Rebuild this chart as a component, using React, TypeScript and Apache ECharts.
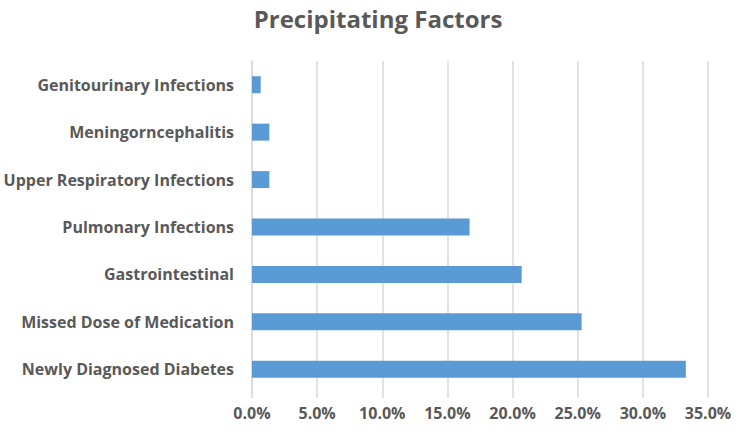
import React, { useEffect, useRef } from "react";
import * as echarts from "echarts";

const categories = [
  "Newly Diagnosed Diabetes",
  "Missed Dose of Medication",
  "Gastrointestinal",
  "Pulmonary Infections",
  "Upper Respiratory Infections",
  "Meningorncephalitis",
  "Genitourinary Infections",
];
const values = [33.3, 25.3, 20.7, 16.7, 1.33, 1.33, 0.67];
const titleText = "Precipitating Factors";

export default function App() {
  const ref = useRef<HTMLDivElement>(null);
  useEffect(() => {
    if (!ref.current) return;
    const chart = echarts.init(ref.current, null, { renderer: "svg" });
    const font = "'Open Sans', 'Liberation Sans', sans-serif";
    chart.setOption({
      animation: false,
      title: {
        text: titleText,
        left: 373,
        textAlign: "center",
        top: 1,
        textStyle: { fontFamily: font, fontSize: 24, fontWeight: "bold", color: "#595959" },
      },
      grid: { left: 252, right: 36, top: 61, bottom: 43, containLabel: false },
      xAxis: {
        type: "value",
        min: 0,
        max: 35,
        interval: 5,
        axisLine: { show: false },
        axisTick: { show: true, length: 5, lineStyle: { color: "#d9d9d9", width: 1.5 } },
        splitLine: { show: true, lineStyle: { color: "#d9d9d9", width: 1.5 } },
        axisLabel: {
          formatter: (v: number) => v.toFixed(1) + "%",
          fontFamily: font,
          fontSize: 16,
          fontWeight: "bold",
          color: "#595959",
          margin: 12,
        },
      },
      yAxis: {
        type: "category",
        data: categories,
        axisLine: { show: true, lineStyle: { color: "#d9d9d9", width: 1.5 } },
        axisTick: { show: false },
        axisLabel: {
          fontFamily: font,
          fontSize: 16,
          fontWeight: "bold",
          color: "#595959",
          margin: 18,
        },
      },
      series: [
        {
          type: "bar",
          data: values,
          barWidth: 17,
          itemStyle: { color: "#5b9bd5" },
        },
      ],
    });
    return () => chart.dispose();
  }, []);
  return <div ref={ref} style={{ width: 744, height: 436, position: "absolute", left: 0, top: 0 }} />;
}
